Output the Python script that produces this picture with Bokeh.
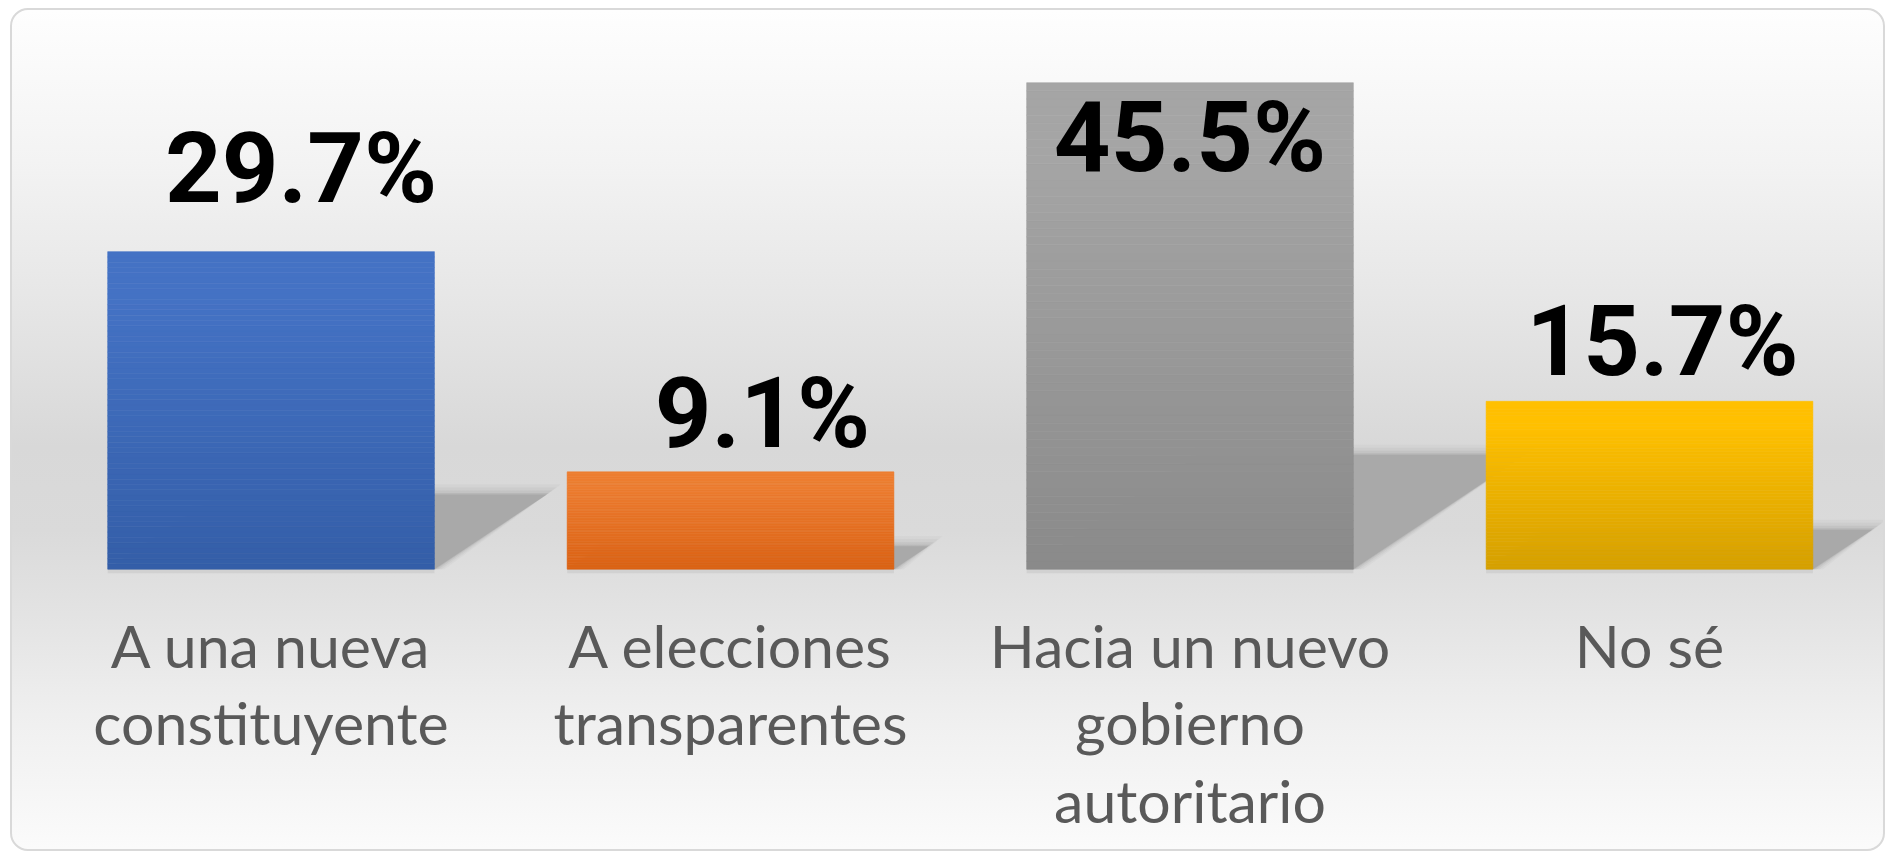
import numpy as np
from bokeh.plotting import figure
from bokeh.models import Range1d, ColumnDataSource
from bokeh.core.properties import value
from bokeh.embed import file_html
from bokeh.resources import INLINE

# ---- data ----
categories = ["A una nueva\nconstituyente",
              "A elecciones\ntransparentes",
              "Hacia un nuevo\ngobierno\nautoritario",
              "No sé"]
values = [29.7, 9.1, 45.5, 15.7]
value_labels = ["29.7%", "9.1%", "45.5%", "15.7%"]

# ---- style ----
top_colors = ["#4472C4", "#ED7D31", "#A5A5A5", "#FFC000"]
bottom_colors = ["#345EA8", "#DB6214", "#8A8A8A", "#D5A000"]
label_dx = [30, 32, 0, 13]          # px
label_dy = [-84, -59, 54, -60]      # px
CAT_OFF0 = 76                       # px below baseline of bars
CAT_LINE = 77.5                     # px line spacing

W, H = 1875, 843
MX, MY, BW = 10, 8, 2
X0, Y0 = MX + BW, MY + BW
Wc, Hc = W - 2 * BW, H - 2 * BW
PX_CAT = 458.5
PX_UNIT = 10.64
BAR_W = 0.711
ZERO_Y = 566
x0 = -(270 - X0) / PX_CAT
x1 = x0 + Wc / PX_CAT
y1 = (ZERO_Y - Y0) / PX_UNIT
y0 = y1 - Hc / PX_UNIT

p = figure(width=W, height=H, output_backend="svg", toolbar_location=None,
           x_range=Range1d(x0, x1), y_range=Range1d(y0, y1),
           min_border=0, x_axis_location=None, y_axis_location=None)
p.grid.visible = False
p.outline_line_color = None
p.background_fill_color = None
p.border_fill_color = None
p.styles = {
    "margin-left": f"{MX}px",
    "margin-top": f"{MY}px",
    "background": "linear-gradient(to bottom, #fefefe 0%, #f3f3f3 18%, #e6e6e6 35%, "
                  "#d8d8d8 52%, #dadada 62%, #e3e3e3 72%, #efefef 84%, #fbfbfb 100%)",
    "border": f"{BW}px solid #d9d9d9",
    "border-radius": "18px",
}

def hex2rgb(h):
    h = h.lstrip("#")
    return np.array([int(h[i:i + 2], 16) for i in (0, 2, 4)], dtype=float)

def rgb2hex(c):
    return "#%02x%02x%02x" % tuple(int(round(v)) for v in c)

def px2x(px):
    return px / PX_CAT

def px2y(px):
    return px / PX_UNIT

# ---- shadows ----
for e, a in [(10, 0.10), (7, 0.15), (4, 0.25), (1.5, 0.45), (0, 1.0)]:
    xs, ys = [], []
    for i, v in enumerate(values):
        L, R = i - BAR_W / 2, i + BAR_W / 2
        h = 0.235 * v
        dx = px2x(3.77 * v)
        xs.append([L, R + px2x(e), R + dx + px2x(e * 1.4), L + dx, L])
        ys.append([0, 0, h + px2y(e), h + px2y(e), 0])
    p.patches(xs, ys, fill_color="#a9a9a9", fill_alpha=a, line_color=None)

# base shadow under bars
p.quad(left=[i - BAR_W / 2 for i in range(len(values))],
       right=[i + BAR_W / 2 for i in range(len(values))],
       bottom=px2y(-4), top=0, fill_color="#c4c4c4", fill_alpha=0.5, line_color=None)

# ---- bars with vertical gradient ----
N = 60
lefts, rights, bottoms, tops, cols = [], [], [], [], []
for i, v in enumerate(values):
    ct, cb = hex2rgb(top_colors[i]), hex2rgb(bottom_colors[i])
    for k in range(N):
        f = (k + 0.5) / N
        t = min(1.0, f / 0.85)
        c = cb + (ct - cb) * t
        lefts.append(i - BAR_W / 2)
        rights.append(i + BAR_W / 2)
        bottoms.append(v * k / N)
        tops.append(v * (k + 1) / N)
        cols.append(rgb2hex(c))
p.quad(left=lefts, right=rights, bottom=bottoms, top=tops,
       fill_color=cols, line_color=cols, line_width=0.6)

# ---- value labels ----
src = ColumnDataSource(dict(x=list(range(len(values))), y=values, t=value_labels,
                            dx=label_dx, dy=label_dy))
p.text(x="x", y="y", text="t", x_offset="dx", y_offset="dy", source=src,
       text_font=value("Roboto"), text_font_style="bold", text_font_size="99px",
       text_color="#000000", text_align="center", text_baseline="alphabetic")

# ---- category labels ----
cx, cy, ctx, coff = [], [], [], []
for i, cat in enumerate(categories):
    for j, line in enumerate(cat.split("\n")):
        cx.append(i)
        cy.append(0)
        ctx.append(line)
        coff.append(CAT_OFF0 + CAT_LINE * j)
p.text(x=cx, y=cy, text=ctx, y_offset=coff,
       text_font=value("Lato"), text_font_size="59px", text_color="#595959",
       text_align="center", text_baseline="alphabetic")

open("out.html", "w").write(file_html(p, INLINE))
